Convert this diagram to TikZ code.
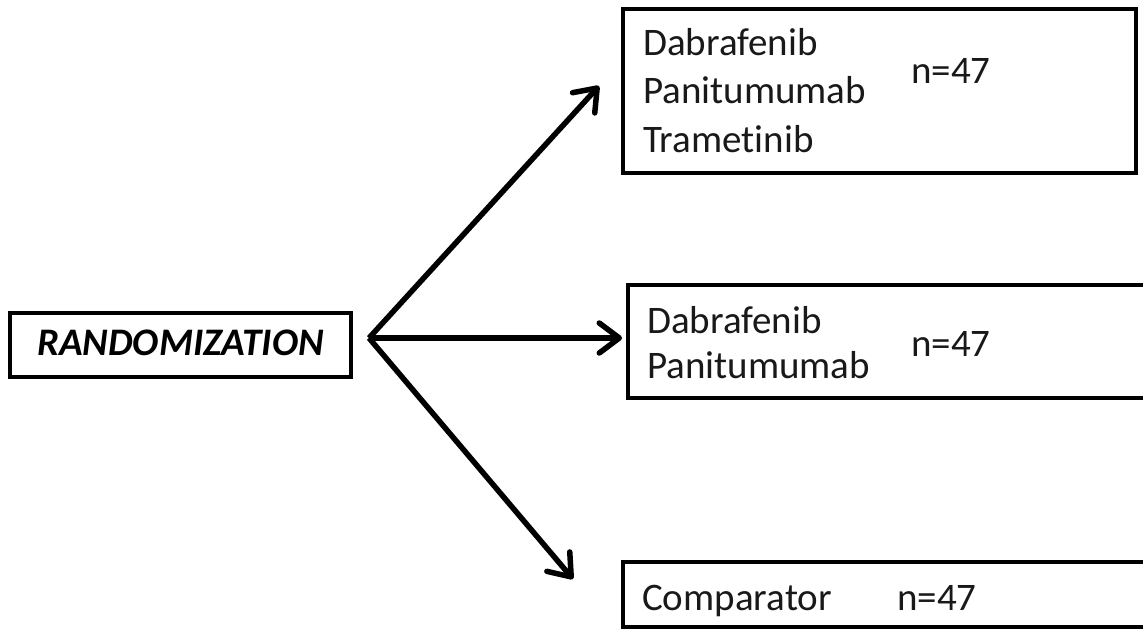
\documentclass[tikz,border=0pt]{standalone}
\usepackage{fontspec}
\setmainfont{Carlito}[Ligatures=NoCommon]
\usetikzlibrary{arrows.meta}
\begin{document}
\begin{tikzpicture}[x=1pt,y=-1pt,
  box/.style={draw=black, line width=4pt, inner sep=0pt, fill=white},
  lbl/.style={anchor=base west, inner sep=0pt, font=\fontsize{39}{42}\selectfont, text=black!90},
  arr/.style={line width=5.5pt, -{Straight Barb[length=20pt,width=30pt,round]}}]
\useasboundingbox (0,0) rectangle (1143,629);

% randomization box
\node[box, minimum width=341pt, minimum height=64pt] (rnd) at (180.5,345) {};
\node[anchor=base, inner sep=0pt, font=\fontsize{39}{42}\selectfont\bfseries\itshape] (rndtxt) at (180.5,355) {RANDOMIZATION};

% arm boxes
\node[box, minimum width=513pt, minimum height=164pt] (armA) at (879.5,91) {};
\node[box, minimum width=532pt, minimum height=113pt] (armB) at (894,341.5) {};
\node[box, minimum width=537pt, minimum height=65pt] (armC) at (891.5,594.5) {};

% arm A text
\node[lbl] (a1) at (643,55) {Dabrafenib};
\node[lbl] (a2) at (643,103) {Panitumumab};
\node[lbl] (a3) at (643,152) {Trametinib};
\node[lbl] (an) at (911,83) {n=47};

% arm B text
\node[lbl] (b1) at (647,333) {Dabrafenib};
\node[lbl] (b2) at (647,378) {Panitumumab};
\node[lbl] (bn) at (911,356) {n=47};

% arm C text
\node[lbl] (c1) at (642,610) {Comparator};
\node[lbl] (cn) at (897,610) {n=47};

% arrows
\coordinate (split) at (369,338);
\coordinate (tipA) at (599,86);
\coordinate (tipB) at (622,338);
\coordinate (tipC) at (573,579);
\draw[arr] (split) -- (tipA);
\draw[arr] (split) -- (tipB);
\draw[arr] (split) -- (tipC);
\end{tikzpicture}
\end{document}
